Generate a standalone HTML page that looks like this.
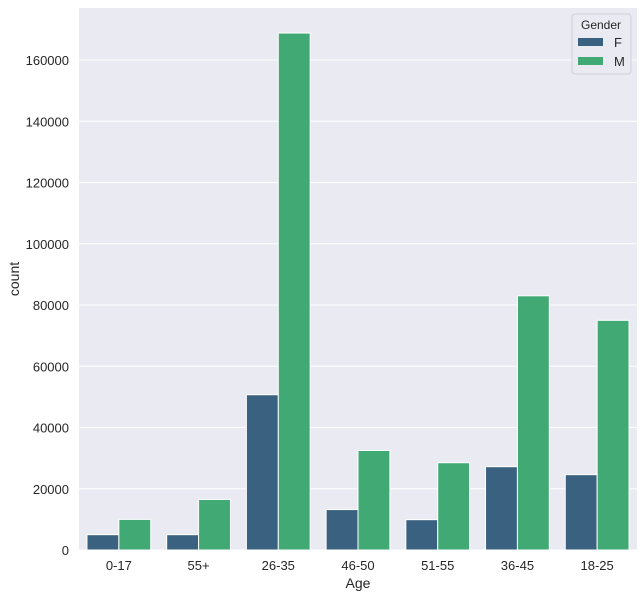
<!DOCTYPE html>
<html><head><meta charset="utf-8"><style>
body{margin:0;background:#fff;font-family:"Liberation Sans",Arial,sans-serif}
</style></head><body>
<svg id="chart" width="643" height="597" xmlns="http://www.w3.org/2000/svg" font-family="Liberation Sans, Arial, sans-serif"></svg>
<script>
const categories=["0-17","55+","26-35","46-50","51-55","36-45","18-25"];
const femaleCounts=[5000,5000,50700,13200,9900,27200,24600];
const maleCounts=[10000,16500,168800,32500,28500,83000,75000];
const yTicks=[0,20000,40000,60000,80000,100000,120000,140000,160000];
const seriesNames=["F","M"];
const colors=["#3a6280","#41a974"];
const svg=document.getElementById('chart');
const NS="http://www.w3.org/2000/svg";
const L=79,R=637,T=8,B=550,yMax=(B-T)/(490/160000);
const y=v=>B-v/yMax*(B-T);
const bw=(R-L)/categories.length;
function el(t,a,p){const e=document.createElementNS(NS,t);for(const k in a)e.setAttribute(k,a[k]);(p||svg).appendChild(e);return e;}
const bg=el('rect',{x:L,y:T,width:R-L,height:B-T,fill:'#eaeaf2'});


yTicks.forEach(t=>{
 const g=el('line',{x1:L,x2:R,y1:y(t),y2:y(t),stroke:'#fff','stroke-width':1});
 
 
 const tx=el('text',{x:L-10,y:y(t)+5,'text-anchor':'end','font-size':13,fill:'#262626'});
 tx.textContent=t;
 
 
});
categories.forEach((c,i)=>{
 const cx=L+bw*(i+0.5);
 [femaleCounts[i],maleCounts[i]].forEach((v,j)=>{
  const w=bw*0.4;
  const r=el('rect',{x:cx-bw*0.4+j*w,y:y(v),width:w,height:B-y(v),fill:colors[j],stroke:'#fff','stroke-width':1});
  
  
 });
 const tx=el('text',{x:cx,y:B+20,'text-anchor':'middle','font-size':13,fill:'#262626'});
 tx.textContent=c;
 
 
});
const xt=el('text',{x:(L+R)/2,y:588,'text-anchor':'middle','font-size':14,fill:'#262626'});
xt.textContent='Age';


const yt=el('text',{x:19,y:(T+B)/2,'text-anchor':'middle','font-size':14,fill:'#262626',transform:'rotate(-90 19 '+(T+B)/2+')'});
yt.textContent='count';


const lg=el('g',{});


el('rect',{x:572,y:14,width:59,height:60,rx:3,fill:'#eaeaf2',stroke:'#d0d0d8'},lg);
const lt=el('text',{x:601,y:29,'text-anchor':'middle','font-size':12,fill:'#262626'},lg);
lt.textContent='Gender';
seriesNames.forEach((n,j)=>{
 const sw=el('rect',{x:578,y:38+j*19,width:25,height:8,fill:colors[j]},lg);
 
 
 const t=el('text',{x:614,y:47+j*19,'font-size':13,fill:'#262626'},lg);
 t.textContent=n;
 
 
});
</script>
</body></html>
